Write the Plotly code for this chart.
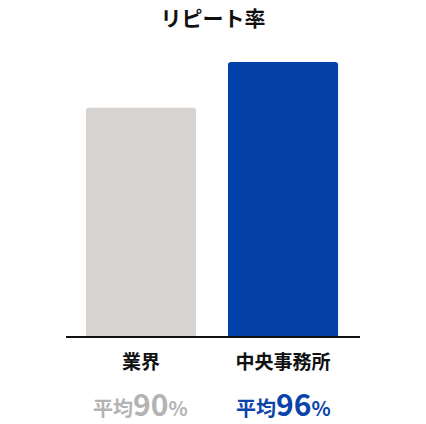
import plotly.graph_objects as go

# data
categories = ["業界", "中央事務所"]
repeat_rate = [90, 96]
bar_colors = ["#d6d3d0", "#0340a8"]
avg_colors = ["#b3b3b3", "#0a44aa"]

x_pos = list(range(len(categories)))

fig = go.Figure(go.Bar(
    x=x_pos, y=repeat_rate,
    marker=dict(color=bar_colors, line=dict(width=0)),
    width=0.775,
    hoverinfo="skip",
))

# 平均xx% の注釈
for i, v in enumerate(repeat_rate):
    c = avg_colors[i]
    fig.add_annotation(
        x=x_pos[i], y=-0.226, xref="x", yref="paper", showarrow=False,
        text=(f"<b><span style='font-size:20px'>平均</span>"
              f"<span style='font-size:30px'>{v}</span>"
              f"<span style='font-size:20px'>%</span></b>"),
        font=dict(color=c, family="Noto Sans CJK JP"),
        xanchor="center", yanchor="middle", height=30, valign="middle",
    )

fig.update_layout(
    width=426, height=424,
    margin=dict(l=66, r=66, t=40, b=88),
    paper_bgcolor="white", plot_bgcolor="white",
    barcornerradius=3,
    showlegend=False,
    font=dict(family="Noto Sans CJK JP", color="#111111"),
    title=dict(text="<b>リピート率</b>", x=0.5, xanchor="center",
               y=0.957, yanchor="middle", font=dict(size=21, color="#111111")),
    xaxis=dict(
        range=[-0.528, 1.542],
        tickvals=x_pos, ticktext=[f"<b>{c}</b>" for c in categories],
        tickfont=dict(size=19, color="#111111"),
        showline=True, linecolor="#111111", linewidth=2,
        showgrid=False, zeroline=False, ticks="", ticklabelstandoff=8,
    ),
    yaxis=dict(
        range=[60, 98.9], visible=False, showgrid=False, zeroline=False,
    ),
)

fig.write_html("out.html", config={"displayModeBar": False},
               post_script="document.body.style.margin='0';")
